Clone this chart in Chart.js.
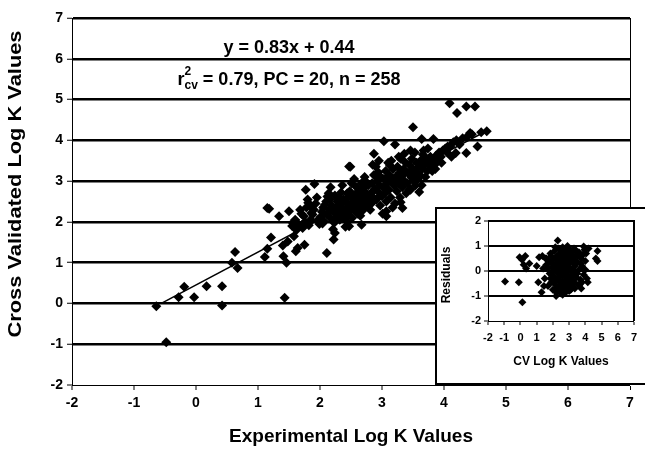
<!DOCTYPE html>
<html>
<head>
<meta charset="utf-8">
<script src="https://cdn.jsdelivr.net/npm/chart.js@4/dist/chart.umd.min.js"></script>
<style>
  html, body { margin: 0; padding: 0; background: #fff; }
  #wrap { position: relative; width: 645px; height: 450px; overflow: hidden; }
  #main { position: absolute; left: 0; top: 0; }
  #insetBox { position: absolute; left: 435px; top: 207px; width: 222px; height: 178px;
              border: 2px solid #000; background: #fff; box-sizing: border-box; }
  #inset { position: absolute; left: 0; top: 0; }
</style>
</head>
<body>
<div id="wrap">
  <canvas id="main" width="645" height="450"></canvas>
  <div id="insetBox"><canvas id="inset" width="218" height="174"></canvas></div>
</div>
<script>
const FONT = '"Liberation Sans", Arial, sans-serif'

const xTitle = 'Experimental Log K Values'
const yTitle = 'Cross Validated Log K Values'
const equationText = 'y = 0.83x + 0.44'
const statsText = ' = 0.79, PC = 20, n = 258'
const insetXTitle = 'CV Log K Values'
const insetYTitle = 'Residuals'

// experimental vs cross validated log K
const mainPoints = [
  [-0.64,-0.07],[-0.48,-0.95],[-0.28,0.15],[-0.19,0.41],[-0.03,0.15],[0.17,0.42],[0.42,0.42],[0.42,-0.05],
  [0.63,1.26],[0.58,1.0],[0.67,0.87],[1.43,0.14],[1.11,1.14],[1.15,1.34],[1.21,1.62],[1.15,2.34],
  [1.18,2.32],[1.34,2.14],[1.4,1.42],[1.41,1.16],[1.46,1.0],[1.48,1.52],[1.5,2.26],[1.56,1.98],
  [1.61,1.28],[1.64,1.36],[1.75,1.44],[1.74,2.14],[1.77,2.79],[1.81,2.47],[1.91,2.93],[1.71,1.93],
  [2.11,1.24],[2.22,1.57],[2.24,1.73],[2.47,1.89],[2.67,1.93],[2.47,3.36],[2.87,3.67],[3.03,3.98],
  [3.21,3.9],[3.36,3.67],[3.5,4.32],[3.64,4.03],[3.83,4.03],[4.09,4.91],[4.21,4.67],[4.36,4.83],
  [4.5,4.83],[4.69,4.22],[4.42,4.18],[4.54,3.85],[4.19,3.69],[4.36,3.69],[4.06,3.85],[3.96,3.45],
  [3.6,2.73],[3.3,2.48],[3.33,2.34],[3.07,2.14],[3.07,2.26],[3.46,2.79],[3.0,2.63],[2.8,2.47],
  [1.82,1.92],[1.85,2.05],[1.88,2.18],[1.9,2.3],[1.93,2.45],[1.95,2.6],[1.86,2.22],[1.97,2.05],[1.99,1.95],[1.84,2.38],
  [2.01,2.12],[2.03,2.25],[2.05,2.35],[2.06,2.02],[2.08,2.42],[2.1,2.5],[2.11,2.18],[2.12,2.62],
  [2.14,2.7],[2.15,2.3],[2.17,2.85],[2.18,2.08],[2.19,2.4],[2.04,1.96],[2.13,2.22],[2.16,2.55],
  [2.21,1.82],[2.22,2.25],[2.23,1.98],[2.25,2.1],[2.26,2.35],[2.27,2.18],[2.28,2.5],[2.3,2.28],[2.31,2.6],[2.32,2.05],
  [2.33,2.42],[2.34,2.72],[2.35,2.2],[2.36,2.9],[2.37,2.32],[2.38,2.55],[2.39,2.12],[2.24,2.65],[2.29,2.4],[2.36,2.48],
  [2.41,1.88],[2.42,2.3],[2.43,2.02],[2.44,2.45],[2.45,2.18],[2.46,2.62],[2.47,2.25],[2.48,2.75],[2.5,2.38],[2.51,2.95],
  [2.52,2.1],[2.53,2.55],[2.55,3.05],[2.56,2.28],[2.57,2.68],[2.58,2.42],[2.59,2.85],[2.49,3.35],[2.54,2.5],[2.44,2.7],
  [2.61,2.2],[2.62,2.55],[2.63,2.35],[2.64,2.75],[2.66,2.45],[2.67,2.95],[2.68,2.62],[2.7,2.3],[2.71,2.85],
  [2.72,3.1],[2.74,2.5],[2.75,2.7],[2.76,2.4],[2.78,2.9],[2.79,2.58],[2.65,2.15],[2.73,3.0],
  [2.81,2.3],[2.82,2.7],[2.83,2.45],[2.84,2.95],[2.86,2.6],[2.87,3.15],[2.88,2.8],[2.9,3.35],[2.91,2.55],
  [2.92,3.0],[2.93,2.75],[2.95,3.5],[2.96,2.9],[2.97,2.4],[2.98,3.1],[2.99,2.65],[2.85,3.4],[2.94,3.22],
  [3.01,2.2],[3.02,2.85],[3.03,3.05],[3.05,2.7],[3.06,3.25],[3.07,2.5],[3.08,2.95],[3.1,3.45],[3.11,2.78],
  [3.12,3.15],[3.14,2.6],[3.15,3.5],[3.16,3.0],[3.17,2.35],[3.18,3.3],[3.19,2.9],[3.13,3.38],[3.09,3.08],
  [3.21,2.45],[3.22,3.1],[3.24,2.75],[3.25,3.35],[3.26,2.95],[3.28,3.2],[3.29,2.6],[3.3,3.55],
  [3.32,3.05],[3.33,2.85],[3.35,3.3],[3.36,3.0],[3.38,3.45],[3.39,2.7],[3.27,3.6],[3.34,3.15],
  [3.41,2.95],[3.42,3.2],[3.44,3.4],[3.45,2.8],[3.47,3.1],[3.48,3.55],[3.5,3.3],[3.52,3.0],
  [3.53,3.7],[3.55,3.2],[3.56,3.45],[3.58,3.05],[3.59,3.35],[3.46,3.75],[3.54,2.9],
  [3.61,3.15],[3.62,3.5],[3.64,2.9],[3.65,3.3],[3.66,3.65],[3.68,3.4],[3.7,3.1],
  [3.71,3.55],[3.73,3.25],[3.74,3.8],[3.76,3.45],[3.78,3.6],[3.79,3.35],[3.67,3.75],
  [3.81,3.25],[3.83,3.5],[3.85,3.4],[3.87,3.62],[3.9,3.55],[3.92,3.7],[3.95,3.6],[3.98,3.75],[3.86,3.3],
  [4.02,3.8],[4.05,3.7],[4.1,3.85],[4.15,3.95],[4.2,4.0],[4.25,3.9],[4.3,4.05],[4.38,4.1],[4.45,4.15],[4.6,4.2],[4.12,3.6],
  [1.55,1.9],[1.6,2.05],[1.65,1.95],[1.7,2.2],[1.72,1.85],[1.78,2.35],[1.76,2.0],[1.58,1.65],[1.68,2.3],[1.8,2.55],[1.62,1.8]
]

// fitted line end points as drawn
const fitLine = [[-0.56, 0.0], [4.72, 4.26]]

// inset: CV log K vs residuals
const residualPoints = [
  [-0.95,-0.42],[-0.1,-0.45],[0.12,-1.25],[-0.05,0.55],[0.1,0.45],[0.3,0.6],[0.2,0.25],[0.35,0.1],[0.55,0.3],
  [2.3,1.22],[4.75,0.8],[4.75,0.4],[4.65,0.5],[4.2,0.9],[3.9,0.98],[4.15,-0.45],[3.75,-0.7],[1.3,-0.85],
  [1.1,-0.45],[1.0,0.2],[1.15,0.55],[1.35,0.6],[1.6,0.5],[2.2,-1.0],[2.6,-0.95],
  [1.4,0.1],[1.5,-0.3],[1.6,0.25],[1.7,-0.6],[1.75,0.4],[1.8,-0.1],[1.85,0.7],[1.9,-0.45],[1.95,0.15],[2.0,-0.75],
  [2.0,0.45],[2.05,-0.2],[2.1,0.8],[2.1,0.05],[2.15,-0.55],[2.2,0.3],[2.2,-0.85],[2.25,0.6],[2.3,-0.3],[2.3,0.1],
  [2.35,0.9],[2.4,-0.6],[2.4,0.4],[2.45,-0.1],[2.5,0.7],[2.5,-0.9],[2.55,0.2],[2.6,-0.4],[2.6,0.95],[2.65,0.0],
  [2.7,0.5],[2.7,-0.7],[2.75,-0.2],[2.8,0.8],[2.8,0.25],[2.85,-0.5],[2.9,1.0],[2.9,-0.05],[2.95,0.55],[3.0,-0.8],
  [3.0,0.3],[3.05,-0.3],[3.1,0.75],[3.1,0.0],[3.15,-0.6],[3.2,0.45],[3.25,-0.15],[3.3,0.9],[3.3,-0.45],[3.35,0.2],
  [3.4,0.6],[3.45,-0.25],[3.5,0.35],[3.55,-0.55],[3.6,0.75],[3.6,0.05],[3.7,-0.35],[3.75,0.5],[3.8,0.2],[3.9,-0.15],
  [4.0,0.4],[4.05,0.7],[4.1,-0.3],[3.95,0.85],[1.55,0.5],[1.45,-0.6],[2.25,-0.05],[2.55,0.5],[2.75,0.2],[3.2,0.1],
  [2.35,-0.4],[2.65,-0.65],[2.95,-0.25],[3.15,0.55],[1.9,0.6],[2.15,0.15],[2.45,0.25],[2.85,0.05],[3.4,-0.05],[3.05,0.85],
  [1.7,0.1],[1.8,0.35],[1.85,-0.3],[2.0,0.0],[2.05,0.25],[2.1,-0.4],[2.2,0.55],[2.25,-0.65],[2.3,0.35],[2.35,0.65],
  [2.4,-0.25],[2.45,-0.75],[2.5,0.1],[2.5,0.45],[2.55,-0.55],[2.6,0.3],[2.65,0.75],[2.7,-0.45],[2.7,0.05],[2.75,0.6],
  [2.8,-0.85],[2.8,-0.35],[2.85,0.4],[2.9,0.7],[2.9,-0.65],[2.95,0.15],[3.0,-0.45],[3.0,0.6],[3.05,0.1],[3.1,-0.75],
  [3.1,0.4],[3.15,-0.2],[3.2,0.75],[3.25,-0.4],[3.3,0.3],[3.35,-0.7],[3.4,0.4],[3.45,0.8],[3.5,-0.1],[3.55,0.6],
  [3.65,-0.55],[3.7,0.3],[3.8,-0.45],[3.85,0.65],[4.0,0.05],[2.15,0.95],[2.45,0.85],[2.6,-0.15],[2.85,-0.15],[3.25,0.6]
]

const toXY = arr => arr.map(p => ({ x: p[0], y: p[1] }))

const tickFont = size => ({ family: FONT, size: size, weight: 'bold' })

// text that Chart.js can't lay out the way the figure does
const mainText = {
  id: 'mainText',
  afterDraw(chart) {
    const ctx = chart.ctx
    const xs = chart.scales.x, ys = chart.scales.y
    ctx.save()
    ctx.fillStyle = '#000'
    ctx.textBaseline = 'middle'
    ctx.textAlign = 'center'

    ctx.font = `bold 18px ${FONT}`
    const cx = xs.getPixelForValue(1.5)
    ctx.fillText(equationText, cx, ys.getPixelForValue(6.27))

    // r^2_cv line
    const big = `bold 18px ${FONT}`, small = `bold 12px ${FONT}`
    ctx.font = big
    const wr = ctx.measureText('r').width
    const wRest = ctx.measureText(statsText).width
    ctx.font = small
    const wSub = Math.max(ctx.measureText('cv').width, ctx.measureText('2').width)
    const total = wr + wSub + wRest
    const x0 = cx - total / 2
    const by = ys.getPixelForValue(5.47)
    ctx.textAlign = 'left'
    ctx.font = big
    ctx.fillText('r', x0, by)
    ctx.font = small
    ctx.fillText('2', x0 + wr, by - 9)
    ctx.fillText('cv', x0 + wr, by + 5)
    ctx.font = big
    ctx.fillText(statsText, x0 + wr + wSub, by)

    // axis titles
    ctx.textAlign = 'center'
    ctx.font = `bold 19px ${FONT}`
    ctx.fillText(xTitle, (xs.left + xs.right) / 2, 437)
    const wy = ctx.measureText(yTitle).width
    ctx.translate(16, 184)
    ctx.rotate(-Math.PI / 2)
    ctx.scale(307 / wy, 1)
    ctx.fillText(yTitle, 0, 0)
    ctx.restore()
  }
}

const insetText = {
  id: 'insetText',
  beforeDatasetsDraw(chart) {
    const a = chart.chartArea
    const ctx = chart.ctx
    ctx.save()
    ctx.strokeStyle = '#000'
    ctx.lineWidth = 2
    ctx.beginPath()
    ctx.moveTo(a.left, a.top)
    ctx.lineTo(a.right, a.top)
    ctx.lineTo(a.right, a.bottom)
    ctx.stroke()
    ctx.restore()
  },
  afterDraw(chart) {
    const ctx = chart.ctx
    const xs = chart.scales.x
    ctx.save()
    ctx.fillStyle = '#000'
    ctx.textAlign = 'center'
    ctx.textBaseline = 'middle'
    ctx.font = `bold 12px ${FONT}`
    ctx.fillText(insetXTitle, (xs.left + xs.right) / 2, 153)
    ctx.translate(10, 66)
    ctx.rotate(-Math.PI / 2)
    ctx.fillText(insetYTitle, 0, 0)
    ctx.restore()
  }
}

const mainChart = new Chart(document.getElementById('main'), {
  type: 'scatter',
  data: {
    datasets: [
      {
        data: toXY(mainPoints),
        pointStyle: 'rectRot',
        pointRadius: 5,
        pointBorderWidth: 0,
        backgroundColor: '#000',
        borderColor: '#000'
      },
      {
        data: toXY(fitLine),
        showLine: true,
        borderColor: '#000',
        borderWidth: 1.5,
        pointRadius: 0
      }
    ]
  },
  options: {
    responsive: false,
    animation: false,
    layout: { padding: { top: 18, right: 15, left: 0, bottom: 0 } },
    plugins: { legend: { display: false }, tooltip: { enabled: false } },
    scales: {
      x: {
        type: 'linear', min: -2, max: 7,
        ticks: { stepSize: 1, color: '#000', font: tickFont(14), padding: 5 },
        grid: {
          color: '#000',
          lineWidth: c => (c.tick && c.tick.value === 7) ? 1 : 0,
          tickLength: 5, tickWidth: 1, tickColor: '#000'
        },
        border: { display: true, color: '#000', width: 1 },
        afterFit: s => { s.height = 65 }
      },
      y: {
        type: 'linear', min: -2, max: 7,
        ticks: { stepSize: 1, color: '#000', font: tickFont(14), padding: 4 },
        grid: {
          color: '#000',
          lineWidth: c => (c.tick && c.tick.value === -2) ? 0 : 2.5,
          tickLength: 5, tickWidth: 1, tickColor: '#000'
        },
        border: { display: true, color: '#000', width: 1 },
        afterFit: s => { s.width = 72 }
      }
    }
  },
  plugins: [mainText]
})

const insetChart = new Chart(document.getElementById('inset'), {
  type: 'scatter',
  data: {
    datasets: [{
      data: toXY(residualPoints),
      pointStyle: 'rectRot',
      pointRadius: 4,
      pointBorderWidth: 0,
      backgroundColor: '#000',
      borderColor: '#000'
    }]
  },
  options: {
    responsive: false,
    animation: false,
    layout: { padding: { top: 12, right: 21, left: 0, bottom: 0 } },
    plugins: { legend: { display: false }, tooltip: { enabled: false } },
    scales: {
      x: {
        type: 'linear', min: -2, max: 7,
        ticks: { stepSize: 1, color: '#000', font: tickFont(11), padding: 6, maxRotation: 0, autoSkip: false },
        grid: {
          color: '#000',
          lineWidth: 0,
          tickLength: 4, tickWidth: 1, tickColor: '#000'
        },
        border: { display: true, color: '#000', width: 1 },
        afterFit: s => { s.height = 62 }
      },
      y: {
        type: 'linear', min: -2, max: 2,
        ticks: { stepSize: 1, color: '#000', font: tickFont(11), padding: 3 },
        grid: {
          color: '#000',
          lineWidth: c => (c.tick && c.tick.value === -2) ? 0 : 2,
          tickLength: 4, tickWidth: 1, tickColor: '#000'
        },
        border: { display: true, color: '#000', width: 1 },
        afterFit: s => { s.width = 51 }
      }
    }
  },
  plugins: [insetText]
})
</script>
</body>
</html>
